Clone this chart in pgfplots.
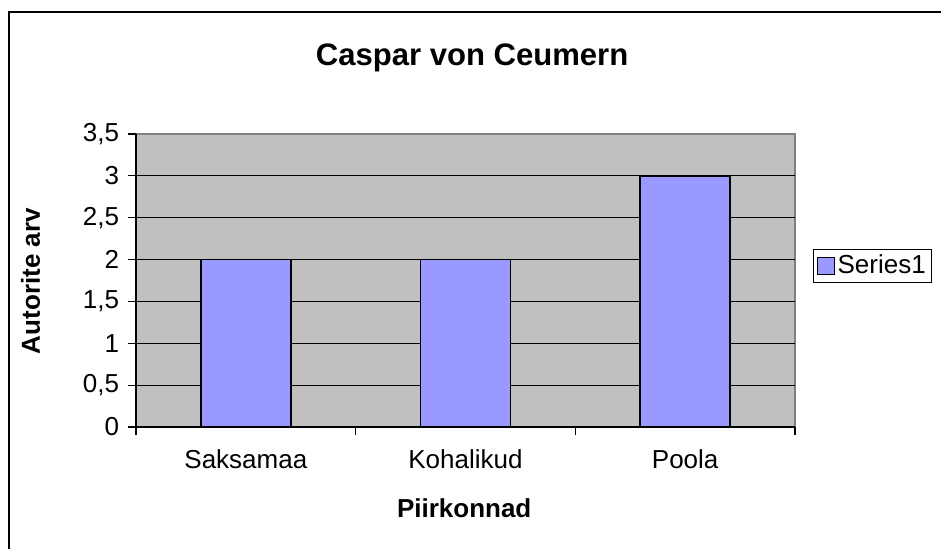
\documentclass[border=0pt]{standalone}
\usepackage{pgfplots}
\pgfplotsset{compat=1.18}
\usepackage{fontspec}
\setmainfont{Liberation Sans}
\definecolor{barc}{HTML}{9999FF}
\definecolor{plotbg}{HTML}{C0C0C0}
\definecolor{framegray}{HTML}{808080}
\begin{document}
\fontsize{19.5}{23}\selectfont
\begin{tikzpicture}
\useasboundingbox (0,0) rectangle (705.75pt,411.75pt);
\draw[line width=1.5pt] (6.5pt,0) -- (6.5pt,402.5pt) -- (705.75pt,402.5pt);
\begin{axis}[
  at={(102pt,91.5pt)}, anchor=south west,
  scale only axis, width=494.25pt, height=219.75pt,
  xmin=0, xmax=3, ymin=0, ymax=3.5,
  /pgf/number format/.cd, use comma, assume math mode=true, /pgfplots/.cd,
  ytick={0,0.5,1,1.5,2,2.5,3},
  extra y ticks={3.5},
  extra y tick style={grid=none},
  xtick={0,1,2,3}, xticklabels={},
  extra x ticks={0.5,1.5,2.5},
  extra x tick labels={Saksamaa,Kohalikud,Poola},
  extra x tick style={major tick length=0pt, grid=none, tick label style={yshift=-10pt}},
  ymajorgrids, major grid style={black, line width=0.75pt},
  axis background/.style={fill=plotbg, draw=framegray, line width=1.2pt},
  axis lines=left, axis line style={-, black, line width=1.2pt},
  tick align=outside, major tick length=6pt, tick style={black, line width=0.9pt},
  title={Caspar von Ceumern},
  title style={font=\bfseries\fontsize{23.3}{28}\selectfont, at={(0.51,1)}, anchor=base, yshift=45pt},
  ylabel={Autorite arv},
  ylabel style={font=\bfseries, at={(axis description cs:-0.16,0.498)}, anchor=center},
  xlabel={Piirkonnad},
  xlabel style={font=\bfseries, at={(axis description cs:0.498,0)}, anchor=center, yshift=-60.75pt},
  legend style={at={(1.028,0.55)}, anchor=west, draw=black, line width=0.75pt, inner sep=2pt},
  legend image code/.code={\draw[fill=barc, draw=black, line width=0.75pt] (0pt,-6.5pt) rectangle (13pt,6.5pt);},
]
\addplot[ybar, bar width=0.41, fill=barc, draw=black, line width=1.1pt] coordinates {(0.5,2) (1.5,2) (2.5,3)};
\addlegendentry{Series1}
\end{axis}
\end{tikzpicture}
\end{document}
